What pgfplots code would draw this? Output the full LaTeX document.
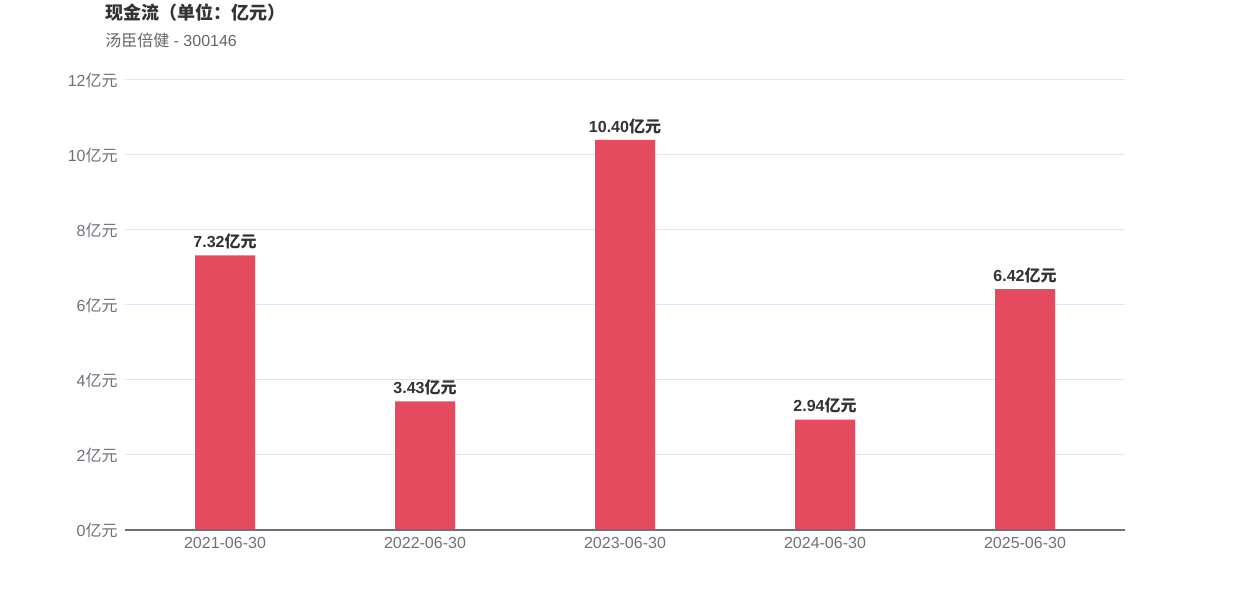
\documentclass[border=0pt]{standalone}
\usepackage{pgfplots}
\pgfplotsset{compat=1.18}
\usepackage{fontspec}
\setmainfont{Liberation Sans}
\newfontfamily\cjk{Noto Sans CJK SC}
\definecolor{barred}{HTML}{E54B5E}
\definecolor{axgray}{HTML}{6E7079}
\definecolor{gridc}{HTML}{E0E6F1}
\definecolor{titc}{HTML}{333333}
\definecolor{subc}{HTML}{666666}
\begin{document}
\begin{tikzpicture}
\path[use as bounding box] (0pt,0pt) rectangle (937.5pt,450pt);
\node[anchor=west,inner sep=0pt,text=titc,font=\fontsize{13.5}{16}\selectfont\bfseries] at (78.75pt,440.25pt) {\cjk 现金流（单位：亿元）};
\node[anchor=west,inner sep=0pt,text=subc,font=\fontsize{12}{14}\selectfont] at (78.75pt,420pt) {{\cjk 汤臣倍健} - 300146};
\begin{axis}[
  at={(93.75pt,52.5pt)}, anchor=south west,
  scale only axis, width=750pt, height=337.5pt,
  xmin=-0.5, xmax=4.5, ymin=0, ymax=12,
  xtick=data,
  xticklabels={2021-06-30,2022-06-30,2023-06-30,2024-06-30,2025-06-30},
  ytick={0,2,4,6,8,10,12},
  yticklabel={\pgfmathprintnumber{\tick}{\cjk 亿元}},
  /pgf/number format/assume math mode=true,
  ticklabel style={text=axgray,font=\fontsize{12}{14}\selectfont},
  yticklabel style={xshift=-2pt},
  xticklabel style={yshift=-2pt},
  major tick length=0pt,
  ymajorgrids, grid style={gridc,line width=0.75pt},
  axis line style={draw=none},
  clip=false,
  ybar, bar width=45pt,
  nodes near coords={\pgfmathprintnumber[fixed,fixed zerofill,precision=2]{\pgfplotspointmeta}{\cjk 亿元}},
  nodes near coords style={anchor=south,inner sep=0pt,yshift=4.5pt,text=titc,font=\fontsize{12}{14}\selectfont\bfseries},
]
\addplot[fill=barred,draw=none] coordinates {(0,7.32) (1,3.43) (2,10.40) (3,2.94) (4,6.42)};
\draw[axgray,line width=0.75pt] (axis cs:-0.5,0) -- (axis cs:4.5,0);
\end{axis}
\end{tikzpicture}
\end{document}
